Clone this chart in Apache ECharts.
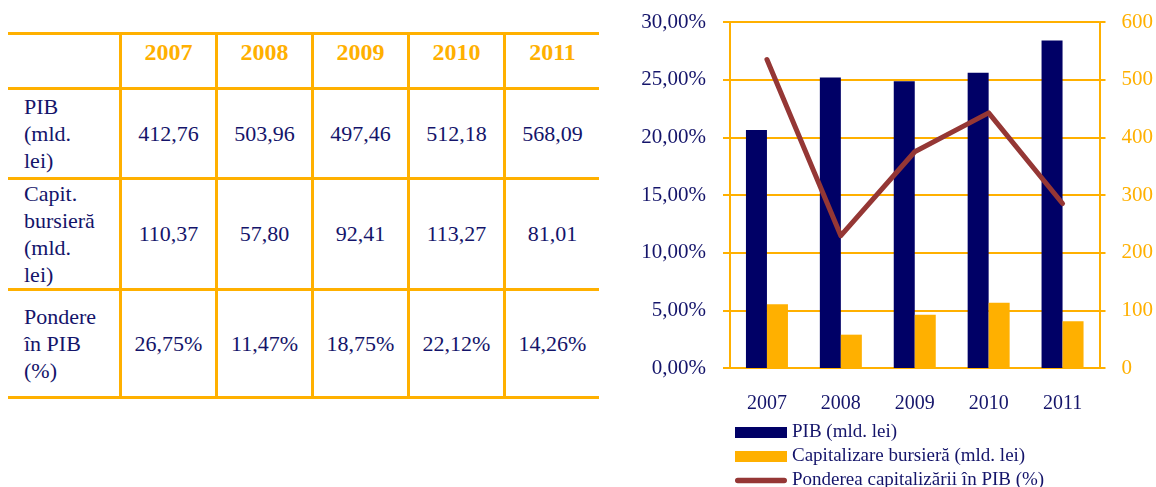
<!DOCTYPE html>
<html>
<head>
<meta charset="utf-8">
<script src="https://cdn.jsdelivr.net/npm/echarts@6/dist/echarts.min.js"></script>
<style>
body { margin:0; background:#fff; width:1156px; height:487px; overflow:hidden; }
#tabel { position:absolute; left:8px; top:32px; }
#tabel table { border-collapse:collapse; font-family:"Liberation Serif", serif; color:#14146a; font-size:22px; }
#tabel td { border-top:3px solid #FFB000; padding:0; text-align:center; vertical-align:middle; }
#tabel tr:last-child td { border-bottom:3px solid #FFB000; }
#tabel td.v { border-left:3px solid #FFB000; width:93px; }
#tabel td.lbl { text-align:left; padding-left:16px; width:95px; line-height:27px; }
#tabel tr.hdr td { vertical-align:top; color:#FFB000; font-weight:bold; font-size:24px; padding-top:4px; }
#grafic { position:absolute; left:620px; top:0; width:536px; height:520px; }
</style>
</head>
<body>
<div id="tabel"></div>
<div id="grafic"></div>
<script type="text/javascript">
// date din tabel / grafic
var ani = ['2007', '2008', '2009', '2010', '2011'];
var pib = [412.76, 503.96, 497.46, 512.18, 568.09];
var capitalizare = [110.37, 57.80, 92.41, 113.27, 81.01];
var pondere = [26.75, 11.47, 18.75, 22.12, 14.26];
var etichete = ['PIB<br>(mld.<br>lei)', 'Capit.<br>bursieră<br>(mld.<br>lei)', 'Pondere<br>în PIB<br>(%)'];
var inaltimiRand = [55, 90, 109, 108];

function fmt(v) { return v.toFixed(2).replace('.', ','); }

// tabelul
var html = '<table><tr class="hdr" style="height:' + inaltimiRand[0] + 'px"><td class="lbl"></td>';
for (var i = 0; i < ani.length; i++) html += '<td class="v">' + ani[i] + '</td>';
html += '</tr>';
var randuri = [pib.map(fmt), capitalizare.map(fmt), pondere.map(function(v){ return fmt(v) + '%'; })];
for (var r = 0; r < randuri.length; r++) {
	html += '<tr style="height:' + inaltimiRand[r + 1] + 'px"><td class="lbl">' + etichete[r] + '</td>';
	for (var j = 0; j < randuri[r].length; j++) html += '<td class="v">' + randuri[r][j] + '</td>';
	html += '</tr>';
}
html += '</table>';
document.getElementById('tabel').innerHTML = html;

// graficul
var portocaliu = '#FFB000';
var bleumarin = '#000066';
var visiniu = '#953735';
var textColor = '#14146a';
var myChart = echarts.init(document.getElementById('grafic'));
var option = {
	animation: false,
	textStyle: { fontFamily: 'Liberation Serif' },
	grid: { left: 110, right: 56, top: 22, bottom: 152 },
	legend: {
		orient: 'vertical',
		left: 115,
		top: 423,
		padding: 0,
		itemWidth: 52,
		itemHeight: 11,
		itemGap: 5,
		textStyle: { color: textColor, fontSize: 19, fontFamily: 'Liberation Serif' },
		data: [
			{ name: 'PIB (mld. lei)', icon: 'rect' },
			{ name: 'Capitalizare bursieră (mld. lei)', icon: 'rect' },
			{ name: 'Ponderea capitalizării în PIB (%)',
			  icon: 'path://M3,0 L53,0 A3,3 0 0 1 53,6 L3,6 A3,3 0 0 1 3,0 Z',
			  itemStyle: { color: visiniu } }
		]
	},
	xAxis: {
		type: 'category',
		data: ani,
		axisLine: { lineStyle: { color: portocaliu, width: 2 } },
		axisTick: { length: 6, lineStyle: { color: portocaliu, width: 2 } },
		axisLabel: { color: textColor, fontSize: 20, margin: 26 }
	},
	yAxis: [{
		type: 'value',
		min: 0, max: 30, interval: 5,
		axisLine: { show: true, lineStyle: { color: portocaliu, width: 2 } },
		axisTick: { show: true, length: 7, lineStyle: { color: portocaliu, width: 2 } },
		splitLine: { lineStyle: { color: portocaliu, width: 2 } },
		axisLabel: { color: textColor, fontSize: 21, margin: 24,
			formatter: function(v){ return v.toFixed(2).replace('.', ',') + '%'; } }
	}, {
		type: 'value',
		min: 0, max: 600, interval: 100,
		axisLine: { show: true, lineStyle: { color: portocaliu, width: 2 } },
		axisTick: { show: true, length: 6, lineStyle: { color: portocaliu, width: 2 } },
		splitLine: { show: false },
		axisLabel: { color: portocaliu, fontSize: 21, margin: 22 }
	}],
	series: [{
		name: 'PIB (mld. lei)',
		type: 'bar',
		yAxisIndex: 1,
		barWidth: 21,
		barGap: '0%',
		itemStyle: { color: bleumarin },
		data: pib
	}, {
		name: 'Capitalizare bursieră (mld. lei)',
		type: 'bar',
		yAxisIndex: 1,
		barWidth: 21,
		barGap: '0%',
		itemStyle: { color: portocaliu },
		data: capitalizare
	}, {
		name: 'Ponderea capitalizării în PIB (%)',
		type: 'line',
		yAxisIndex: 0,
		symbol: 'none',
		itemStyle: { color: visiniu },
		lineStyle: { color: visiniu, width: 5, cap: 'round', join: 'round' },
		data: pondere
	}]
};
myChart.setOption(option);
</script>
</body>
</html>
